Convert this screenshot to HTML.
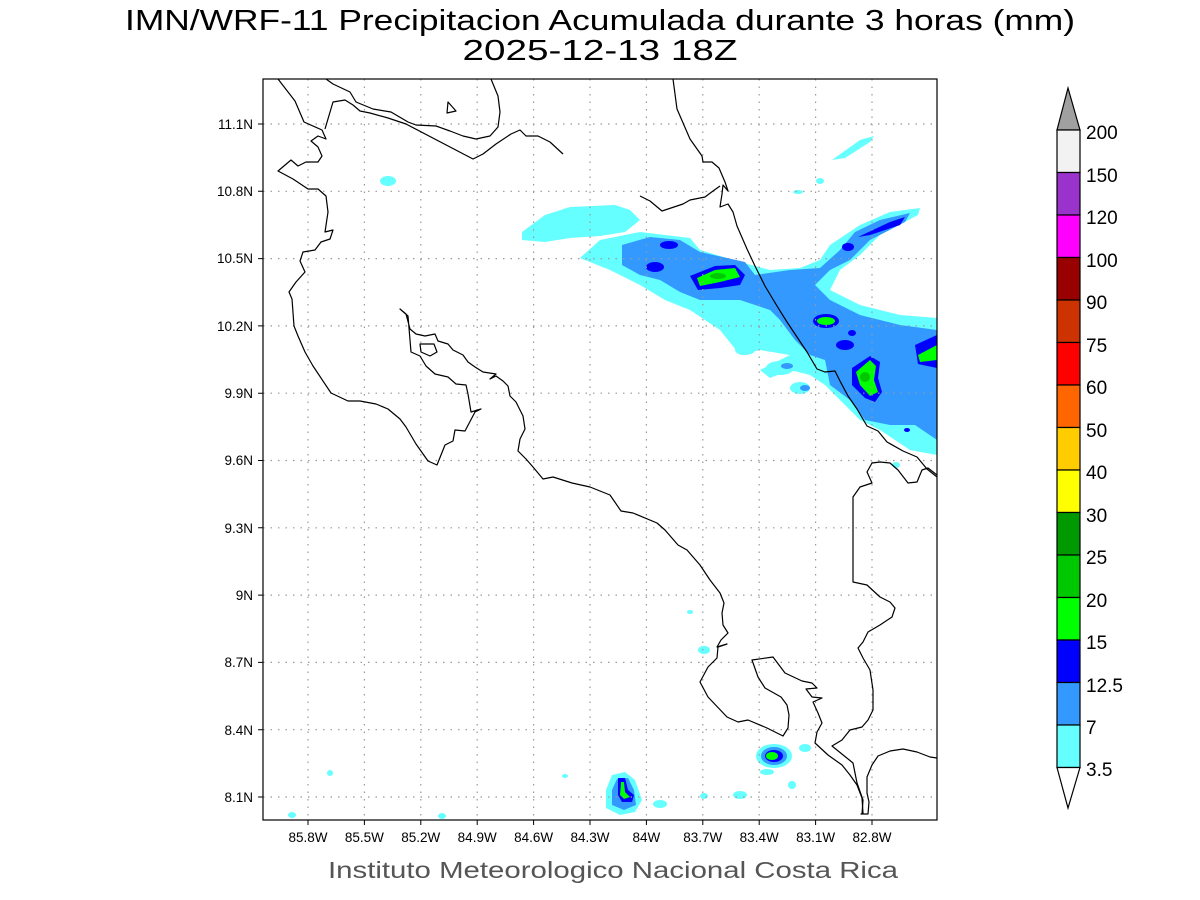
<!DOCTYPE html>
<html><head><meta charset="utf-8"><style>body{margin:0;background:#fff}svg{display:block}</style></head><body>
<svg width="1200" height="900" viewBox="0 0 1200 900" xmlns="http://www.w3.org/2000/svg" font-family="Liberation Sans, sans-serif">
<rect width="1200" height="900" fill="#fff"/>
<text x="600" y="30" font-size="29" text-anchor="middle" textLength="950" lengthAdjust="spacingAndGlyphs" fill="#000">IMN/WRF-11 Precipitacion Acumulada durante 3 horas (mm)</text>
<text x="600" y="60" font-size="29" text-anchor="middle" textLength="275" lengthAdjust="spacingAndGlyphs" fill="#000">2025-12-13 18Z</text>
<text x="613" y="878" font-size="23" text-anchor="middle" textLength="570" lengthAdjust="spacingAndGlyphs" fill="#555">Instituto Meteorologico Nacional Costa Rica</text>
<defs><clipPath id="c"><rect x="263" y="79" width="674" height="741"/></clipPath></defs>
<g clip-path="url(#c)">
<!-- precipitation -->
<g fill="#66ffff">
<path d="M522,232 L545,215 L570,207 L615,205 L630,210 L640,220 L625,232 L600,236 L570,238 L545,242 L522,240Z"/>
<path d="M580,258 L600,240 L640,232 L690,238 L700,250 L740,262 L770,270 L800,268 L820,260 L830,245 L860,225 L890,212 L920,208 L918,215 L880,235 L860,255 L840,270 L830,290 L860,305 L900,315 L937,318 L937,455 L910,450 L880,430 L860,420 L840,400 L825,385 L810,375 L790,370 L770,378 L760,370 L790,355 L760,350 L740,355 L720,330 L690,310 L665,300 L640,285 L610,270Z"/>
<path d="M832,160 L860,140 L874,136 L870,142 L845,158Z"/>
<ellipse cx="388" cy="181" rx="8" ry="5"/><ellipse cx="798" cy="192" rx="5" ry="2"/><ellipse cx="820" cy="181" rx="4" ry="3"/>
<ellipse cx="745" cy="350" rx="10" ry="5"/><ellipse cx="780" cy="368" rx="14" ry="7"/><ellipse cx="800" cy="388" rx="10" ry="6"/>
<ellipse cx="690" cy="612" rx="3" ry="2"/><ellipse cx="704" cy="650" rx="6" ry="4"/><ellipse cx="330" cy="773" rx="3" ry="3"/>
<ellipse cx="292" cy="815" rx="4" ry="3"/><ellipse cx="442" cy="816" rx="4" ry="3"/><ellipse cx="565" cy="776" rx="3" ry="2"/>
<ellipse cx="660" cy="804" rx="7" ry="4"/><ellipse cx="704" cy="796" rx="4" ry="3"/><ellipse cx="740" cy="795" rx="7" ry="4"/>
<ellipse cx="767" cy="772" rx="7" ry="3"/><ellipse cx="792" cy="785" rx="4" ry="4"/><ellipse cx="805" cy="748" rx="6" ry="4"/>
<ellipse cx="896" cy="465" rx="4" ry="3"/><ellipse cx="774" cy="756" rx="18" ry="12"/>
<path d="M606,790 L612,775 L625,772 L635,780 L642,800 L635,812 L620,815 L606,808Z"/>
</g>
<g fill="#3399ff">
<path d="M622,245 L650,237 L680,240 L700,252 L745,262 L755,275 L790,270 L820,268 L840,250 L855,232 L880,220 L910,213 L905,222 L870,240 L850,260 L830,270 L815,285 L830,300 L860,315 L900,325 L937,330 L937,440 L915,425 L890,425 L865,420 L850,400 L830,385 L825,360 L810,355 L795,340 L780,320 L770,310 L740,300 L700,300 L680,292 L660,280 L640,275 L622,265Z"/>
<ellipse cx="774" cy="756" rx="13" ry="9"/><ellipse cx="787" cy="366" rx="6" ry="3"/><ellipse cx="805" cy="388" rx="5" ry="3"/>
<path d="M612,790 L617,779 L628,778 L634,790 L636,805 L624,810 L612,805Z"/>
</g>
<g fill="#0000ff">
<ellipse cx="669" cy="245" rx="9" ry="4"/><ellipse cx="655" cy="267" rx="9" ry="5"/>
<path d="M690,276 L715,266 L735,265 L745,275 L740,285 L720,288 L698,290Z"/>
<ellipse cx="826" cy="321" rx="13" ry="7"/><ellipse cx="848" cy="247" rx="6" ry="4"/>
<path d="M858,237 L890,222 L905,217 L900,225 L870,235Z"/>
<ellipse cx="845" cy="345" rx="9" ry="5"/><ellipse cx="852" cy="333" rx="4" ry="3"/>
<path d="M852,368 L870,356 L880,362 L878,378 L882,392 L875,402 L865,398 L852,385Z"/>
<path d="M915,345 L937,335 L937,368 L918,364Z"/>
<ellipse cx="907" cy="430" rx="3" ry="2"/><ellipse cx="774" cy="756" rx="9" ry="6"/>
<path d="M618,778 L625,778 L628,790 L634,795 L632,802 L622,802 L618,795Z"/>
</g>
<g fill="#00ff00">
<path d="M697,278 L715,270 L735,268 L740,277 L720,282 L700,286Z"/>
<ellipse cx="826" cy="321" rx="9" ry="4"/>
<path d="M856,372 L870,360 L876,366 L874,380 L878,392 L870,396 L860,385Z"/>
<path d="M918,355 L937,345 L937,360 L920,362Z"/>
<ellipse cx="772" cy="756" rx="6" ry="4"/>
<path d="M621,782 L624,782 L625,792 L630,797 L624,799 L620,795Z"/>
</g>
<g fill="#00c800"><ellipse cx="718" cy="276" rx="8" ry="3"/><ellipse cx="865" cy="377" rx="5" ry="5"/></g>
<!-- grid -->
<g stroke="#999" stroke-width="1.2" stroke-dasharray="1.5,6">
<path d="M308,79V820M364.4,79V820M420.8,79V820M477.2,79V820M533.6,79V820M590,79V820M646.4,79V820M702.8,79V820M759.2,79V820M815.6,79V820M872,79V820"/>
<path d="M263,124H937M263,191.3H937M263,258.6H937M263,325.9H937M263,393.2H937M263,460.5H937M263,527.8H937M263,595.1H937M263,662.4H937M263,729.7H937M263,797H937"/>
</g>
<!-- coast -->
<g fill="none" stroke="#000" stroke-width="1.2" stroke-linejoin="round">
<polyline points="278,79 295,101 304,122 322,130 326,139 318,136 311,141 318,147 322,156 318,162 306,162 298,166 291,160 278,171 293,179 308,189 318,189 326,196 328,212 325,232 333,230 330,239 321,242 315,250 303,252 300,261 305,272 296,282 289,292 292,299 294,326 298,336 305,352 313,366 331,393 348,401 360,401 376,404 388,409 400,419 406,427 416,444 428,461 437,465 445,445 453,441 455,430 465,431 475,412 481,409 471,412 468,394 466,385 456,384 448,377 435,374 426,366 420,356 411,352 408,316 400,309 406,314 410,329 416,334 425,336 435,334 438,341 448,344 453,350 463,355 468,362 475,367 483,372 496,374 490,379 496,376 503,381 508,386 510,396 516,402 523,416 525,429 520,439 518,451 526,459 533,467 543,479 553,477 572,483 590,487 610,495 621,511 633,513 657,523 665,530 678,545 687,550 700,565 710,580 720,593 724,603 722,613 723,625 728,633 721,640 717,647 727,644 718,647 717,658 708,667 700,682 708,697 727,717 738,722 748,720 767,728 783,736 788,728 789,715 787,705 781,697 765,688 758,677 752,660 773,657 785,673 802,681 812,683 817,688 806,689 812,697 822,698 813,702 818,713 822,723 817,732 815,743 828,755 842,765 850,775 857,785 862,798 863,813 861,814 868,814 869,802 867,793 867,777 872,765 878,756 890,751 903,749 917,752 930,757 937,758"/>
<polyline points="326,79 333,84 350,92 356,102 373,109 391,112 408,122 416,125 436,126 450,131 463,136 476,139 490,136 498,127 500,112 498,96 491,79"/>
<polyline points="325,129 333,102 345,100 353,105 360,111 370,113 388,118 406,124 473,159 483,154 496,144 511,134 520,130 526,136 538,136 550,142 563,154"/>
<polyline points="640,196 650,201 662,211 683,204 690,200 705,197 713,191 720,186"/>
<polyline points="673,79 677,109 690,139 702,156 703,162 712,162 719,168 725,182 728,191 723,185 722,194 720,207 728,204 733,212 737,226 747,249 755,266 765,286 777,306 787,322 797,337 807,352 817,369 825,372 835,371 840,381 848,396 857,409 867,426 878,431 887,442 903,451 917,457 927,469 937,477"/>
<polyline points="937,475 928,468 922,470 917,482 908,483 898,470 890,463 880,462 872,463 867,472 872,483 860,487 853,497 853,582 867,585 880,597 890,602 895,608 892,617 880,625 868,632 863,642 858,648 863,658 870,670 873,690 873,710 868,720 862,727 850,730 842,740 832,746 853,763 857,783 863,800 862,814"/>
<polygon points="448,102 456,111 447,113"/>
<polygon points="420,344 434,344 437,352 430,356 421,352"/>
</g>
</g>
<rect x="263" y="79" width="674" height="741" fill="none" stroke="#000" stroke-width="1.2"/>
<g stroke="#000" stroke-width="1">
<path d="M308,820v5M364.4,820v5M420.8,820v5M477.2,820v5M533.6,820v5M590,820v5M646.4,820v5M702.8,820v5M759.2,820v5M815.6,820v5M872,820v5"/>
<path d="M263,124h-5M263,191.3h-5M263,258.6h-5M263,325.9h-5M263,393.2h-5M263,460.5h-5M263,527.8h-5M263,595.1h-5M263,662.4h-5M263,729.7h-5M263,797h-5"/>
</g>
<g font-size="13.5" text-anchor="middle" fill="#000">
<text x="308" y="842">85.8W</text><text x="364.4" y="842">85.5W</text><text x="420.8" y="842">85.2W</text><text x="477.2" y="842">84.9W</text><text x="533.6" y="842">84.6W</text><text x="590" y="842">84.3W</text><text x="646.4" y="842">84W</text><text x="702.8" y="842">83.7W</text><text x="759.2" y="842">83.4W</text><text x="815.6" y="842">83.1W</text><text x="872" y="842">82.8W</text>
</g>
<g font-size="13.5" text-anchor="end" fill="#000">
<text x="253" y="129">11.1N</text><text x="253" y="196">10.8N</text><text x="253" y="263">10.5N</text><text x="253" y="331">10.2N</text><text x="253" y="398">9.9N</text><text x="253" y="465">9.6N</text><text x="253" y="533">9.3N</text><text x="253" y="600">9N</text><text x="253" y="667">8.7N</text><text x="253" y="735">8.4N</text><text x="253" y="802">8.1N</text>
</g>
<!-- colorbar -->
<g stroke="#000" stroke-width="1.2">
<polygon points="1068,88 1057,130 1080,130" fill="#a0a0a0"/>
<rect x="1057" y="130" width="23" height="42.5" fill="#f2f2f2"/>
<rect x="1057" y="172.5" width="23" height="42.5" fill="#9933cc"/>
<rect x="1057" y="215" width="23" height="42.5" fill="#ff00ff"/>
<rect x="1057" y="257.5" width="23" height="42.5" fill="#990000"/>
<rect x="1057" y="300" width="23" height="42.5" fill="#cc3300"/>
<rect x="1057" y="342.5" width="23" height="42.5" fill="#ff0000"/>
<rect x="1057" y="385" width="23" height="42.5" fill="#ff6600"/>
<rect x="1057" y="427.5" width="23" height="42.5" fill="#ffcc00"/>
<rect x="1057" y="470" width="23" height="42.5" fill="#ffff00"/>
<rect x="1057" y="512.5" width="23" height="42.5" fill="#009900"/>
<rect x="1057" y="555" width="23" height="42.5" fill="#00c800"/>
<rect x="1057" y="597.5" width="23" height="42.5" fill="#00ff00"/>
<rect x="1057" y="640" width="23" height="42.5" fill="#0000ff"/>
<rect x="1057" y="682.5" width="23" height="42.5" fill="#3399ff"/>
<rect x="1057" y="725" width="23" height="42.5" fill="#66ffff"/>
<polygon points="1057,767.5 1080,767.5 1068,808" fill="#fff"/>
</g>
<g font-size="19" fill="#000">
<text x="1086" y="139">200</text><text x="1086" y="182">150</text><text x="1086" y="224">120</text><text x="1086" y="267">100</text><text x="1086" y="309">90</text><text x="1086" y="352">75</text><text x="1086" y="394">60</text><text x="1086" y="437">50</text><text x="1086" y="479">40</text><text x="1086" y="522">30</text><text x="1086" y="564">25</text><text x="1086" y="607">20</text><text x="1086" y="649">15</text><text x="1086" y="692">12.5</text><text x="1086" y="734">7</text><text x="1086" y="776">3.5</text>
</g>
</svg>
</body></html>
